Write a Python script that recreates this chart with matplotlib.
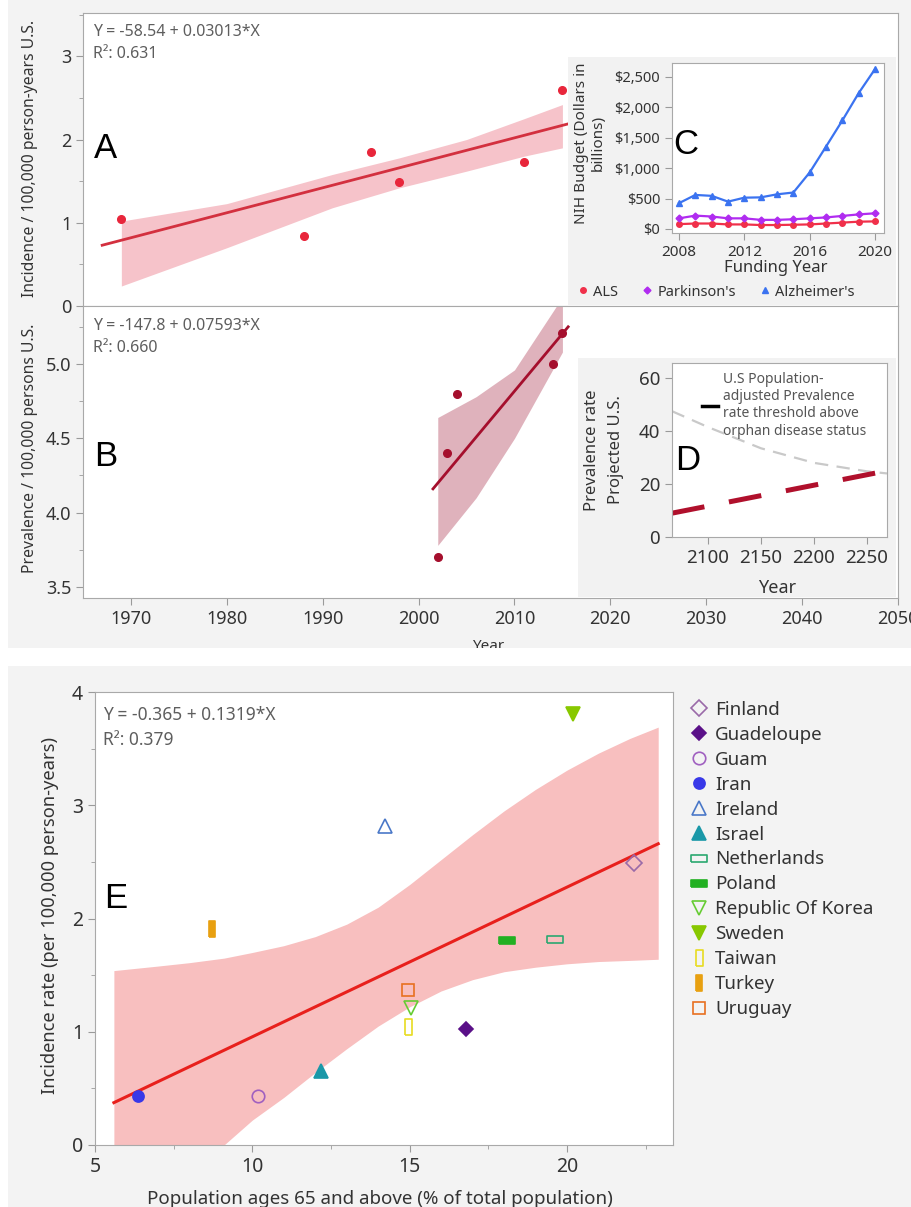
import numpy as np
import matplotlib.pyplot as plt
import matplotlib.ticker as mticker
from matplotlib.lines import Line2D
from matplotlib.patches import Rectangle

plt.rcParams['font.family'] = ['Noto Sans', 'DejaVu Sans']

# ---- values ----
# A: incidence, U.S.
a_year = [1969, 1988, 1995, 1998, 2011, 2015]
a_inc = [1.05, 0.84, 1.85, 1.49, 1.73, 2.60]
a_fit_year = [1967, 2016]
a_fit = [0.73, 2.20]
a_band_year = [1969, 1980, 1991, 1998, 2005, 2011, 2015]
a_band_lo = [0.24, 0.70, 1.18, 1.42, 1.62, 1.80, 1.90]
a_band_hi = [1.02, 1.23, 1.58, 1.78, 2.00, 2.25, 2.42]

# B: prevalence, U.S.
b_year = [2002, 2003, 2004, 2014, 2015]
b_prev = [3.70, 4.40, 4.80, 5.00, 5.21]
b_fit_year = [2001.5, 2015.6]
b_fit = [4.16, 5.25]
b_band_year = [2002, 2006, 2010, 2015]
b_band_lo = [3.78, 4.10, 4.50, 5.08]
b_band_hi = [4.64, 4.78, 4.96, 5.45]

# C: NIH budget
c_year = [2008, 2009, 2010, 2011, 2012, 2013, 2014, 2015, 2016, 2017, 2018, 2019, 2020]
c_als = [80, 90, 90, 75, 75, 65, 65, 70, 75, 90, 105, 120, 125]
c_park = [175, 220, 205, 175, 175, 150, 150, 160, 175, 190, 215, 240, 258]
c_alz = [425, 560, 545, 450, 515, 520, 570, 600, 930, 1355, 1785, 2235, 2630]

# D: projected prevalence
d_thr_year = [2066, 2100, 2150, 2200, 2250, 2269]
d_thr = [47.5, 41.5, 33.5, 28.0, 24.8, 24.0]
d_proj_year = [2066, 2269]
d_proj = [9.0, 25.0]

# E: incidence vs population aged 65+
countries = ['Finland', 'Guadeloupe', 'Guam', 'Iran', 'Ireland', 'Israel', 'Netherlands',
             'Poland', 'Republic Of Korea', 'Sweden', 'Taiwan', 'Turkey', 'Uruguay']
e_age = [22.13, 16.79, 10.19, 6.38, 14.22, 12.18, 19.61, 18.10, 15.05, 20.19, 14.96, 8.72, 14.96]
e_inc = [2.49, 1.02, 0.43, 0.43, 2.82, 0.65, 1.82, 1.81, 1.21, 3.81, 1.04, 1.91, 1.37]
e_fit_x = [5.6, 22.9]
e_fit = [0.374, 2.66]
e_band_x = [5.6, 7.0, 8.0, 9.1, 10.0, 11.0, 12.0, 13.0, 14.0, 15.0, 16.0, 17.0, 18.0,
            19.0, 20.0, 21.0, 22.0, 22.9]
e_band_lo = [-0.79, -0.48, -0.25, 0.00, 0.22, 0.42, 0.64, 0.85, 1.05, 1.22, 1.36, 1.46,
             1.53, 1.57, 1.60, 1.62, 1.63, 1.64]
e_band_hi = [1.54, 1.58, 1.61, 1.65, 1.70, 1.76, 1.84, 1.95, 2.10, 2.30, 2.52, 2.74, 2.95,
             3.14, 3.31, 3.46, 3.59, 3.69]

# marker style per country
wide = [(-1, -0.42), (1, -0.42), (1, 0.42), (-1, 0.42), (-1, -0.42)]
tall = [(-0.42, -1), (0.42, -1), (0.42, 1), (-0.42, 1), (-0.42, -1)]
e_style = {
    'Finland': ('D', '#9a6aa8', False, 8),
    'Guadeloupe': ('D', '#5a1088', True, 7),
    'Guam': ('o', '#a060c0', False, 9),
    'Iran': ('o', '#3838e8', True, 8),
    'Ireland': ('^', '#4a78c8', False, 10),
    'Israel': ('^', '#1a98a8', True, 10),
    'Netherlands': (wide, '#2aa870', False, 12),
    'Poland': (wide, '#22b022', True, 12),
    'Republic Of Korea': ('v', '#66cc33', False, 10),
    'Sweden': ('v', '#88c800', True, 10),
    'Taiwan': (tall, '#e8dc20', False, 12),
    'Turkey': (tall, '#e8a010', True, 11),
    'Uruguay': ('s', '#e87020', False, 8),
}

W, H = 912, 1207
fig = plt.figure(figsize=(W / 100, H / 100), dpi=100, facecolor='white')


def rect(x0, y0, x1, y1):
    return [x0 / W, 1 - y1 / H, (x1 - x0) / W, (y1 - y0) / H]


def put(x, y, s, **kw):
    return fig.text(x / W, 1 - y / H, s, **kw)


def panel(x0, y0, x1, y1, color, z):
    fig.add_artist(Rectangle((x0 / W, 1 - y1 / H), (x1 - x0) / W, (y1 - y0) / H,
                             transform=fig.transFigure, facecolor=color,
                             edgecolor='none', zorder=z))


def style(ax, size):
    for s in ax.spines.values():
        s.set_color('#a9a9a9')
    ax.tick_params(which='both', direction='out', color='#9a9a9a',
                   labelcolor='#333333', labelsize=size)
    ax.tick_params(which='major', length=5)
    ax.tick_params(which='minor', length=3)


GRAY = '#f3f3f3'
panel(8, 0, 912, 648, GRAY, -1)
panel(8, 666, 912, 1207, GRAY, -1)

# ---- A ----
ax_a = fig.add_axes(rect(83, 13, 898, 306))
ax_a.fill_between(a_band_year, a_band_lo, a_band_hi, color='#f6c3ca', lw=0)
ax_a.plot(a_fit_year, a_fit, color='#d3303f', lw=2)
ax_a.plot(a_year, a_inc, 'o', color='#e8263b', ms=5.5)
ax_a.set_xlim(1965, 2050)
ax_a.set_ylim(0, 3.52)
ax_a.set_yticks([0, 1, 2, 3])
ax_a.yaxis.set_minor_locator(mticker.MultipleLocator(0.5))
style(ax_a, 13)
ax_a.tick_params(axis='x', which='both', bottom=False, labelbottom=False)

# ---- B ----
ax_b = fig.add_axes(rect(83, 306, 898, 598))
ax_b.fill_between(b_band_year, b_band_lo, b_band_hi, color='#dfb2bc', lw=0)
ax_b.plot(b_fit_year, b_fit, color='#a50f2d', lw=2)
ax_b.plot(b_year, b_prev, 'o', color='#a50f2d', ms=5.5)
ax_b.set_xlim(1965, 2050)
ax_b.set_ylim(3.426, 5.39)
ax_b.set_xticks(range(1970, 2051, 10))
ax_b.set_yticks([3.5, 4.0, 4.5, 5.0])
ax_b.yaxis.set_major_formatter(mticker.FormatStrFormatter('%.1f'))
ax_b.yaxis.set_minor_locator(mticker.MultipleLocator(0.25))
style(ax_b, 13)

put(93, 32, 'Y = -58.54 + 0.03013*X', fontsize=11.5, color='#5e5e5e', va='center')
put(93, 54, 'R²: 0.631', fontsize=11.5, color='#5e5e5e', va='center')
put(93, 326, 'Y = -147.8 + 0.07593*X', fontsize=11.5, color='#5e5e5e', va='center')
put(93, 348, 'R²: 0.660', fontsize=11.5, color='#5e5e5e', va='center')
put(30, 158, 'Incidence / 100,000 person-years U.S.', fontsize=11.3, color='#333333',
    rotation=90, ha='center', va='center')
put(30, 448, 'Prevalence / 100,000 persons U.S.', fontsize=11.3, color='#333333',
    rotation=90, ha='center', va='center')
put(488, 647, 'Year', fontsize=11, color='#333333', ha='center', va='center', zorder=3)

# ---- C inset ----
panel(568, 57, 896, 305, '#f2f2f2', 1)
ax_c = fig.add_axes(rect(672, 63, 884, 233))
ax_c.set_zorder(2)
ax_c.plot(c_year, c_als, '-o', color='#f0304a', lw=1.6, ms=4)
ax_c.plot(c_year, c_park, '-D', color='#b02cf0', lw=1.6, ms=3.5)
ax_c.plot(c_year, c_alz, '-^', color='#3b73f0', lw=1.6, ms=4.5)
ax_c.set_xlim(2007.57, 2020.55)
ax_c.set_ylim(-66, 2730)
ax_c.set_xticks([2008, 2012, 2016, 2020])
ax_c.set_yticks([0, 500, 1000, 1500, 2000, 2500])
ax_c.yaxis.set_major_formatter(mticker.FuncFormatter(lambda v, p: '\\$' + f'{v:,.0f}'))
style(ax_c, 10.5)
ax_c.tick_params(axis='x', labelsize=11)
put(776, 268, 'Funding Year', fontsize=12, color='#333333', ha='center', va='center', zorder=3)
put(590, 143, 'NIH Budget (Dollars in\nbillions)', fontsize=11, color='#333333',
    rotation=90, ha='center', va='center', multialignment='center', zorder=3)
c_handles = [Line2D([], [], ls='none', marker='o', color='#f0304a', ms=4),
             Line2D([], [], ls='none', marker='D', color='#b02cf0', ms=3.5),
             Line2D([], [], ls='none', marker='^', color='#3b73f0', ms=4.5)]
fig.legend(c_handles, ['ALS', "Parkinson's", "Alzheimer's"], ncol=3, frameon=False,
           fontsize=10.5, loc='center', bbox_to_anchor=(716 / W, 1 - 292 / H),
           handlelength=0.8, handletextpad=0.3, columnspacing=1.6,
           labelcolor='#333333')

# ---- D inset ----
panel(578, 358, 896, 597, '#f2f2f2', 1)
ax_d = fig.add_axes(rect(672, 363, 887, 537))
ax_d.set_zorder(2)
gl, = ax_d.plot(d_thr_year, d_thr, color='#c9c9c9', lw=1.6)
gl.set_dashes([6, 3.8])
rl, = ax_d.plot(d_proj_year, d_proj, color='#b0102c', lw=3.6)
rl.set_dashes([6.6, 5])
ax_d.set_xlim(2066, 2269)
ax_d.set_ylim(0, 65.7)
ax_d.set_xticks([2100, 2150, 2200, 2250])
ax_d.set_yticks([0, 20, 40, 60])
style(ax_d, 13.5)
ax_d.legend([Line2D([], [], color='black', lw=2.5)],
            ['U.S Population-\nadjusted Prevalence\nrate threshold above\norphan disease status'],
            loc='upper left', bbox_to_anchor=(0.08, 1.02), frameon=False, fontsize=10,
            handlelength=1.2, handletextpad=0.3, labelcolor='#555555')
put(777, 588, 'Year', fontsize=13, color='#333333', ha='center', va='center', zorder=3)
put(604, 450, 'Prevalence rate\nProjected U.S.', fontsize=12, color='#333333',
    rotation=90, ha='center', va='center', multialignment='center', linespacing=1.6, zorder=3)

# panel letters
for lx, ly, letter in [(106, 148, 'A'), (106, 457, 'B'), (686, 145, 'C'), (688, 460, 'D'),
                       (116, 899, 'E')]:
    put(lx, ly, letter, fontsize=25, family='Liberation Sans', color='black',
        ha='center', va='center', zorder=4)

# gap between the two blocks (cuts the "Year" label)
panel(0, 648, W, 666, 'white', 5)

# ---- E ----
ax_e = fig.add_axes(rect(95, 692, 673, 1145))
ax_e.fill_between(e_band_x, e_band_lo, e_band_hi, color='#f8bfbf', lw=0)
ax_e.plot(e_fit_x, e_fit, color='#e8201c', lw=2.2)
handles = []
for name, xv, yv in zip(countries, e_age, e_inc):
    m, c, filled, size = e_style[name]
    kw = dict(ls='none', marker=m, ms=size, mec=c, mew=1.2,
              mfc=c if filled else 'none')
    ax_e.plot([xv], [yv], **kw)
    handles.append(Line2D([], [], **kw))
ax_e.set_xlim(5, 23.37)
ax_e.set_ylim(0, 4)
ax_e.set_xticks([5, 10, 15, 20])
ax_e.set_yticks([0, 1, 2, 3, 4])
ax_e.xaxis.set_minor_locator(mticker.MultipleLocator(2.5))
ax_e.yaxis.set_minor_locator(mticker.MultipleLocator(0.5))
style(ax_e, 14)
ax_e.legend(handles, countries, loc='upper left', bbox_to_anchor=(673 / W, 1 - 684 / H),
            bbox_transform=fig.transFigure, frameon=False, fontsize=13.5,
            handlelength=1.0, handletextpad=0.35, labelspacing=0.37,
            labelcolor='#333333')

put(103, 715, 'Y = -0.365 + 0.1319*X', fontsize=12.5, color='#5e5e5e', va='center')
put(103, 740, 'R²: 0.379', fontsize=12.5, color='#5e5e5e', va='center')
put(50, 915, 'Incidence rate (per 100,000 person-years)', fontsize=13.2, color='#333333',
    rotation=90, ha='center', va='center')
put(380, 1190, 'Population ages 65 and above (% of total population)', fontsize=13.5,
    color='#333333', ha='center', va='top')

fig.savefig('out.png', dpi=100)
